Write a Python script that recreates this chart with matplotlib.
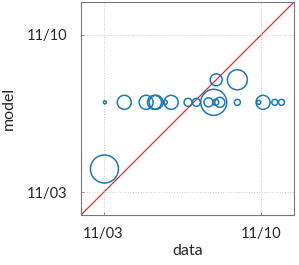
import numpy as np
import matplotlib.pyplot as plt
import matplotlib.dates as mdates
import datetime as dt

plt.rcParams['font.family'] = ['Lato', 'DejaVu Sans']

# day of November (fractional) for data / model, plus circle radius in px
data_day = [3.06, 3.92, 4.89, 5.26, 5.33, 5.74, 6.0, 6.75, 7.12, 7.66, 7.89, 7.98,
            8.16, 8.94, 9.89, 10.08, 10.6, 10.9, 8.0, 8.94, 3.04]
model_day = [7.0, 7.0, 7.0, 7.0, 7.0, 7.0, 7.0, 7.0, 7.0, 7.0, 7.0, 7.0,
             7.0, 7.0, 7.0, 7.0, 7.0, 7.0, 8.0, 8.0, 4.04]
radius = [1.5, 7, 7, 7, 7, 2, 7, 4, 4, 4.5, 13, 3,
          5, 3, 2, 7, 3, 3, 6, 10, 14]

t0 = dt.datetime(2020, 11, 1)
def to_date(d):
    return mdates.date2num(t0 + dt.timedelta(days=d - 1))

x = np.array([to_date(d) for d in data_day])
y = np.array([to_date(d) for d in model_day])
s = (1.44 * np.array(radius)) ** 2

fig = plt.figure(figsize=(2.99, 2.65), dpi=100)
ax = fig.add_axes([0.271, 0.189, 0.712, 0.803])

lo, hi = to_date(2.0), to_date(11.45)
ax.plot([lo, hi], [lo, hi], color='#e8262a', lw=0.9, zorder=1)
ax.scatter(x, y, s=s, facecolors='none', edgecolors='#1f77b4', linewidths=1.1, zorder=2)

ax.set_xlim(lo, hi)
ax.set_ylim(lo, hi)
ticks = [to_date(3), to_date(10)]
ax.set_xticks(ticks)
ax.set_yticks(ticks)
ax.xaxis.set_major_formatter(mdates.DateFormatter('%m/%d'))
ax.yaxis.set_major_formatter(mdates.DateFormatter('%m/%d'))
ax.tick_params(direction='in', length=2, width=0.6, color='#888888', labelsize=10.5,
               labelcolor='#262626', pad=9)
ax.tick_params(axis='y', pad=10)
ax.grid(True, ls=':', color='#cccccc', lw=0.7)
for sp in ax.spines.values():
    sp.set_color('#777777')
    sp.set_linewidth(0.8)

ax.set_xlabel('data', fontsize=11.5, color='#262626', labelpad=2)
ax.set_ylabel('model', fontsize=11.5, color='#262626', labelpad=8)

fig.savefig('out.png', dpi=100)
